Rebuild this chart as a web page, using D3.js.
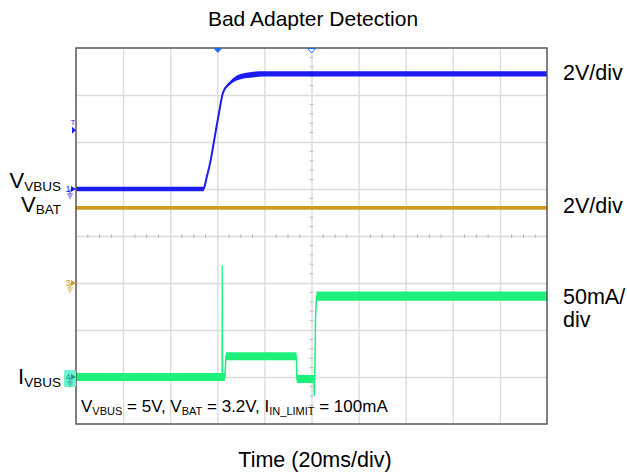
<!DOCTYPE html>
<html>
<head>
<meta charset="utf-8">
<script src="https://cdn.jsdelivr.net/npm/d3@7"></script>
<style>
  body { margin: 0; background: #fff; }
  svg { font-family: "Liberation Sans", Arial, sans-serif; }
</style>
</head>
<body>
<svg id="chart"></svg>
<script>
/**
 * scope capture: bad adapter detection
 */

// time in ms (20ms/div, 10 div)
const vbusTime  = [0, 54.1, 55.5, 57.2, 58.7, 60.7, 62.4, 65.4, 69.6, 73.9, 79.4, 200];
const vbusVolts = [0, 0, 0.5, 1.23, 2.09, 3.23, 4.09, 4.51, 4.77, 4.85, 4.9, 4.9];
const vbusNoise = [0.2, 0.2, 0.05, 0, 0, 0.02, 0.08, 0.15, 0.22, 0.24, 0.22, 0.22];

const vbatTime  = [0, 200];
const vbatVolts = [3.2, 3.2];
const vbatNoise = [0.16, 0.16];

const ibusTime = [0, 63.2, 63.7, 93.6, 93.8, 101.0, 101.2, 101.5, 101.7, 102.1, 200];
const ibusMa   = [0, 0, 22, 22, -2, -2, -20, 20, 62, 86, 86];
const ibusNoise = [8.5, 8.5, 8.5, 8.5, 8.5, 8.5, 0, 0, 0, 10, 10];

// narrow spike when the adapter is first connected
const spikeTime = [62.0, 62.1, 62.3];
const spikeMa   = [2, 119, 2];

// channel settings: ground offset in divisions, units per division
const chOffset = {vbus: 1, vbat: -1, ibus: -3};
const chScale  = {vbus: 2, vbat: 2, ibus: 50};

const triggerTime = 60.2;
const centerTime = 100;
const triggerLevel = 2.5;

const rightLabels = [["2V/div"], ["2V/div"], ["50mA/", "div"]];

var width = 627;
var height = 472;
var plot = {left: 76, right: 547, top: 48, bottom: 424};

const blue = "#1c1cf2", gold = "#cf9d1c", green = "#1ef07c";

var svg = d3.select("#chart").attr("width", width).attr("height", height);

let x = d3.scaleLinear().domain([0, 200]).range([plot.left, plot.right]);
let yDiv = d3.scaleLinear().domain([-4, 4]).range([plot.bottom, plot.top]);
let chY = ch => v => yDiv(chOffset[ch] + v / chScale[ch]);

// grid
svg.append("g")
    .attr("transform", `translate(0,${plot.bottom})`)
    .call(d3.axisBottom(x).tickValues(d3.range(20, 200, 20)).tickSize(-(plot.bottom - plot.top)).tickFormat(""))
    .call(g => g.select(".domain").remove())
    .call(g => g.selectAll("line").attr("stroke", "#dcdcdc").attr("stroke-width", 1.4));
svg.append("g")
    .attr("transform", `translate(${plot.left},0)`)
    .call(d3.axisLeft(yDiv).tickValues(d3.range(-3, 4, 1)).tickSize(-(plot.right - plot.left)).tickFormat(""))
    .call(g => g.select(".domain").remove())
    .call(g => g.selectAll("line").attr("stroke", "#dcdcdc").attr("stroke-width", 1.4));

// minor ticks on center lines
svg.append("g").selectAll("line")
    .data(d3.range(5, 200, 5).filter(d => d % 20 != 0))
    .join("line")
    .attr("x1", d => x(d)).attr("x2", d => x(d))
    .attr("y1", yDiv(0) - 2).attr("y2", yDiv(0) + 2)
    .attr("stroke", "#bbb");
svg.append("g").selectAll("line")
    .data(d3.range(-4, 4, 0.2).filter(d => Math.abs(d - Math.round(d)) > 0.01))
    .join("line")
    .attr("x1", x(centerTime) - 2).attr("x2", x(centerTime) + 2)
    .attr("y1", d => yDiv(d)).attr("y2", d => yDiv(d))
    .attr("stroke", "#bbb");

function drawTrace(time, vals, noise, ch, color, lw, curve) {
  let y = chY(ch);
  curve = curve || d3.curveLinear;
  let pts = time.map((t, i) => ({t: t, v: vals[i], n: noise[i]}));
  svg.append("path")
      .datum(pts)
      .attr("fill", color)
      .attr("d", d3.area().curve(curve).x(d => x(d.t)).y0(d => y(d.v - d.n / 2)).y1(d => y(d.v + d.n / 2)));
  svg.append("path")
      .datum(pts)
      .attr("fill", "none")
      .attr("stroke", color)
      .attr("stroke-width", lw)
      .attr("d", d3.line().curve(curve).x(d => x(d.t)).y(d => y(d.v)));
}

drawTrace(vbatTime, vbatVolts, vbatNoise, "vbat", gold, 1.5);
drawTrace(ibusTime, ibusMa, ibusNoise, "ibus", green, 1.5);
svg.append("path")
    .datum(spikeTime.map((t, i) => [t, spikeMa[i]]))
    .attr("fill", "none")
    .attr("stroke", green)
    .attr("stroke-width", 1.2)
    .attr("d", d3.line().x(d => x(d[0])).y(d => chY("ibus")(d[1])));
drawTrace(vbusTime, vbusVolts, vbusNoise, "vbus", blue, 2, d3.curveMonotoneX);

// frame
svg.append("rect")
    .attr("x", plot.left).attr("y", plot.top)
    .attr("width", plot.right - plot.left).attr("height", plot.bottom - plot.top)
    .attr("fill", "none").attr("stroke", "#555").attr("stroke-width", 1.5);

// top markers
let tx = x(triggerTime), cx = x(centerTime);
svg.append("path")
    .attr("d", `M${tx - 4.5},${plot.top}L${tx + 4.5},${plot.top}L${tx},${plot.top + 5}Z`)
    .attr("fill", "#1a6cf0");
svg.append("path")
    .attr("d", `M${cx - 4},${plot.top + 0.5}L${cx + 4},${plot.top + 0.5}L${cx},${plot.top + 5}Z`)
    .attr("fill", "#fff").attr("stroke", "#1a6cf0").attr("stroke-width", 1);

// channel markers on the left
function groundMark(g, yy, color, label) {
  g.append("path")
      .attr("d", `M${plot.left - 5},${yy - 3}L${plot.left},${yy}L${plot.left - 5},${yy + 3}Z`)
      .attr("fill", color);
  g.append("text").attr("x", plot.left - 8).attr("y", yy + 3)
      .attr("text-anchor", "middle").attr("font-size", 9).attr("fill", color).text(label);
  g.append("path")
      .attr("d", `M${plot.left - 6},${yy}V${yy + 5}M${plot.left - 9},${yy + 5}H${plot.left - 3}` +
                 `M${plot.left - 8},${yy + 7}H${plot.left - 4}M${plot.left - 7},${yy + 9}H${plot.left - 5}`)
      .attr("stroke", color).attr("stroke-width", 0.8).attr("fill", "none");
}

let marks = svg.append("g");
marks.append("rect")
    .attr("x", 64).attr("y", chY("ibus")(0) - 7).attr("width", 12).attr("height", 17)
    .attr("rx", 1.5).attr("fill", "#6ff2d6");
groundMark(marks, chY("vbus")(0), blue, "1");
groundMark(marks, chY("vbat")(0), gold, "3");
groundMark(marks, chY("ibus")(0), "#1aa08a", "4");

let ty = chY("vbus")(triggerLevel);
marks.append("path")
    .attr("d", `M${plot.left - 4},${ty - 3.5}L${plot.left},${ty}L${plot.left - 4},${ty + 3.5}Z`)
    .attr("fill", blue);
marks.append("text").attr("x", plot.left - 3).attr("y", ty - 5)
    .attr("text-anchor", "middle").attr("font-size", 8).attr("fill", blue).text("T");

// titles
svg.append("text").attr("x", 313).attr("y", 26).attr("text-anchor", "middle")
    .attr("font-size", 21).text("Bad Adapter Detection");
svg.append("text").attr("x", 315).attr("y", 466.5).attr("text-anchor", "middle")
    .attr("font-size", 21.5).text("Time (20ms/div)");

// left channel labels
function subLabel(xx, yy, main, sub, big, small, anchor) {
  let t = svg.append("text").attr("x", xx).attr("y", yy).attr("text-anchor", anchor || "start")
      .attr("font-size", big);
  t.append("tspan").text(main);
  t.append("tspan").attr("font-size", small).attr("dy", 2.5).text(sub);
  return t;
}
subLabel(61, 188, "V", "VBUS", 22, 13.5, "end");
subLabel(61, 211.5, "V", "BAT", 22, 13.5, "end");
subLabel(61, 384, "I", "VBUS", 22, 13.5, "end");

// right scale labels
let rightY = [79.5, 212.5, 303.5];
rightLabels.forEach((lines, i) => {
  lines.forEach((s, j) => {
    svg.append("text").attr("x", 563).attr("y", rightY[i] + j * 23)
        .attr("font-size", 21.5).text(s);
  });
});

// test conditions
let cond = svg.append("text").attr("x", 81).attr("y", 412).attr("font-size", 17);
[["V", ""], ["VBUS", "s"], [" = 5V, V", ""], ["BAT", "s"], [" = 3.2V, I", ""], ["IN_LIMIT", "s"], [" = 100mA", ""]]
  .forEach(([s, kind], i, arr) => {
    let sp = cond.append("tspan").text(s);
    if (kind == "s") sp.attr("font-size", 11).attr("dy", 2.5);
    else if (i > 0) sp.attr("dy", -2.5);
  });
</script>
</body>
</html>
